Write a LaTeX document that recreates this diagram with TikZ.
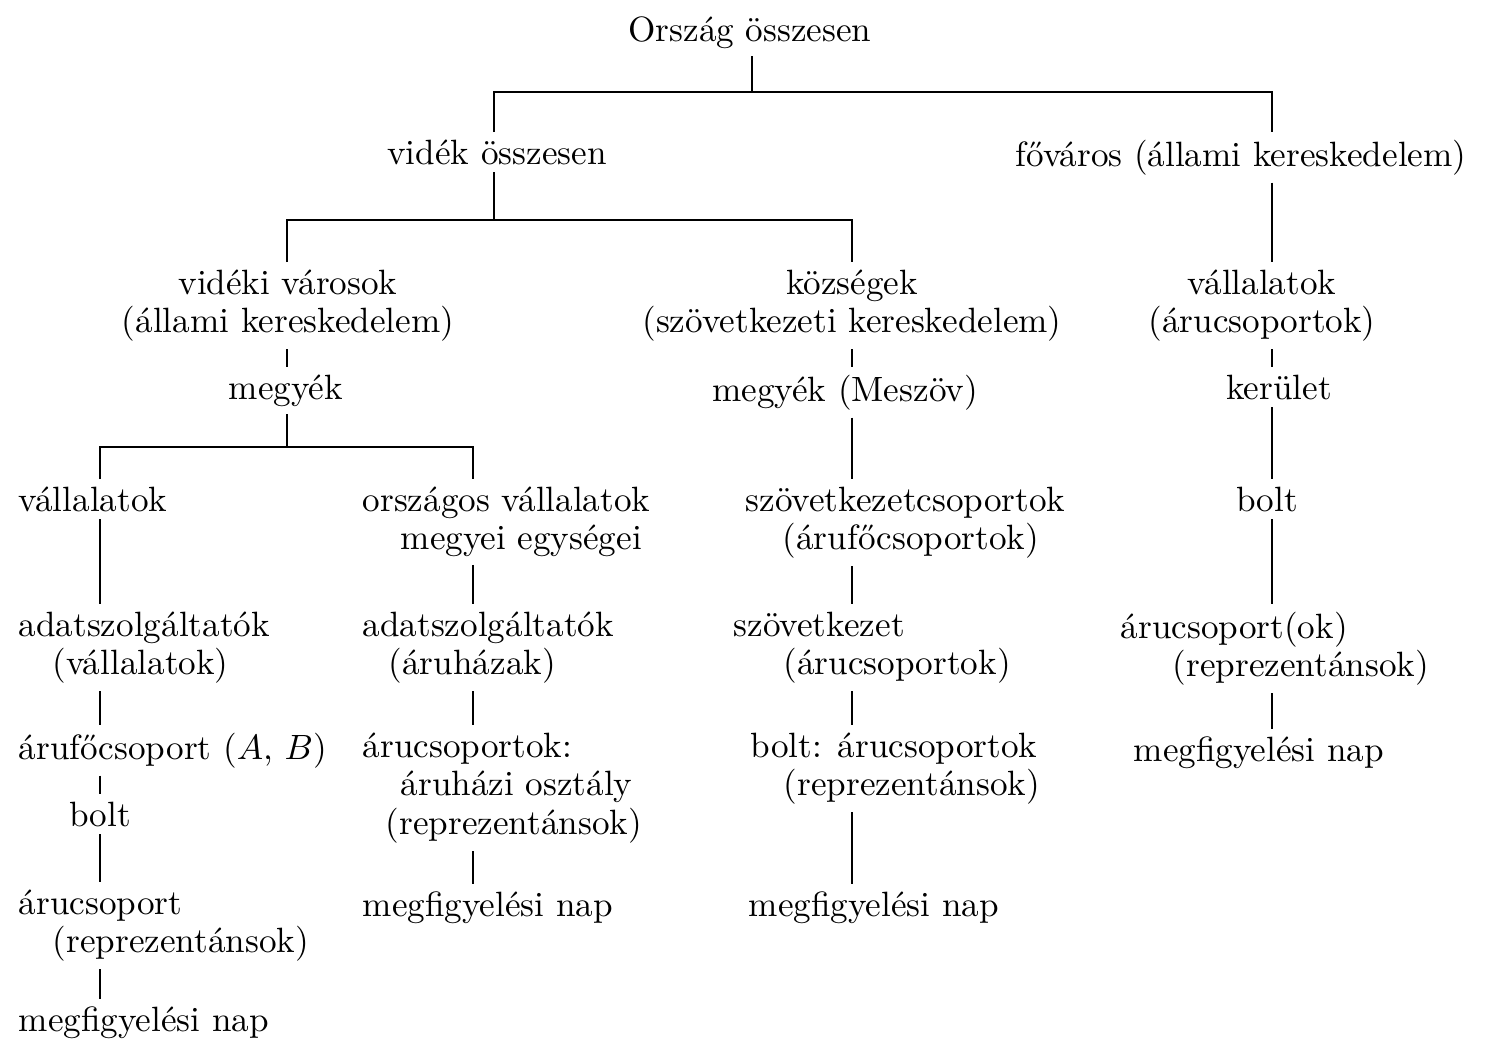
\documentclass[tikz,border=0pt]{standalone}
\usepackage{fontspec}
\usetikzlibrary{positioning}

\begin{document}
\begin{tikzpicture}[
  lab/.style={inner sep=2pt,font=\fontsize{10}{11}\selectfont,align=left,anchor=north west},
  cen/.style={inner sep=2pt,font=\fontsize{10}{11}\selectfont,align=center,anchor=north},
  ln/.style={line width=0.7pt}]
\useasboundingbox (0,0) rectangle (14.87,-10.39);

% column lines
\coordinate (c0) at (7.52,0);
\coordinate (cv) at (4.94,0);
\coordinate (c1) at (2.87,0);
\coordinate (c2) at (8.52,0);
\coordinate (cf) at (12.72,0);
\coordinate (cl1) at (1.00,0);
\coordinate (cl2) at (4.73,0);
\coordinate (b0) at (7.52,-0.92);
\coordinate (b1) at (4.94,-2.20);
\coordinate (b2) at (2.87,-4.47);

% top
\node[cen] (orszag) at (7.50,-0.09) {Ország összesen};
\node[cen] (videk) at (4.97,-1.32) {vidék összesen};
\node[cen] (fovaros) at (12.41,-1.32) {főváros (állami kereskedelem)};

% second level
\node[cen] (vvar) at (2.88,-2.62) {vidéki városok\\(állami kereskedelem)};
\node[cen] (kozs) at (8.52,-2.62) {községek\\(szövetkezeti kereskedelem)};
\node[cen] (vall3) at (12.62,-2.62) {vállalatok\\(árucsoportok)};

\node[cen] (megye1) at (2.86,-3.67) {megyék};
\node[cen] (megye2) at (8.45,-3.67) {megyék (Meszöv)};
\node[cen] (kerulet) at (12.79,-3.67) {kerület};

% lower rows
\node[lab] (vall1) at (0.11,-4.79) {vállalatok};
\node[lab] (orsz) at (3.55,-4.79) {országos vállalatok\\\hspace*{0.38cm}megyei egységei};
\node[lab] (szcs) at (7.38,-4.79) {szövetkezetcsoportok\\\hspace*{0.37cm}(árufőcsoportok)};
\node[cen] (bolt3) at (12.67,-4.79) {bolt};

\node[lab] (adat1) at (0.11,-6.04) {adatszolgáltatók\\\hspace*{0.34cm}(vállalatok)};
\node[lab] (adat2) at (3.55,-6.04) {adatszolgáltatók\\\hspace*{0.26cm}(áruházak)};
\node[lab] (szov) at (7.26,-6.04) {szövetkezet\\\hspace*{0.50cm}(árucsoportok)};
\node[lab] (arucs3) at (11.13,-6.04) {árucsoport(ok)\\\hspace*{0.52cm}(reprezentánsok)};

\node[lab] (afcs) at (0.11,-7.25) {árufőcsoport ($A$, $B$)};
\node[lab] (arucs2) at (3.55,-7.25) {árucsoportok:\\\hspace*{0.38cm}áruházi osztály\\\hspace*{0.23cm}(reprezentánsok)};
\node[lab] (boltar) at (7.43,-7.25) {bolt: árucsoportok\\\hspace*{0.33cm}(reprezentánsok)};
\node[lab] (nap3) at (11.26,-7.29) {megfigyelési nap};

\node[cen] (bolt1) at (1.00,-7.94) {bolt};

\node[lab] (arucs1) at (0.11,-8.82) {árucsoport\\\hspace*{0.34cm}(reprezentánsok)};
\node[lab] (nap2) at (3.55,-8.84) {megfigyelési nap};
\node[lab] (nap2b) at (7.41,-8.84) {megfigyelési nap};

\node[lab] (nap1) at (0.11,-9.99) {megfigyelési nap};

% branches
\draw[ln] (orszag.south -| c0) -- (b0);
\draw[ln] (videk.north -| cv) |- (b0) -| (fovaros.north -| cf);
\draw[ln] (videk.south -| cv) -- (b1);
\draw[ln] (vvar.north -| c1) |- (b1) -| (kozs.north -| c2);
\draw[ln] (megye1.south -| c1) -- (b2);
\draw[ln] (vall1.north -| cl1) |- (b2) -| (orsz.north -| cl2);

% chains
\foreach \a/\b/\c in {vvar/megye1/c1,
  kozs/megye2/c2, megye2/szcs/c2, szcs/szov/c2, szov/boltar/c2, boltar/nap2b/c2,
  fovaros/vall3/cf, vall3/kerulet/cf, kerulet/bolt3/cf, bolt3/arucs3/cf, arucs3/nap3/cf,
  vall1/adat1/cl1, adat1/afcs/cl1, afcs/bolt1/cl1, bolt1/arucs1/cl1, arucs1/nap1/cl1,
  orsz/adat2/cl2, adat2/arucs2/cl2, arucs2/nap2/cl2}
  \draw[ln] (\a.south -| \c) -- (\b.north -| \c);
\end{tikzpicture}
\end{document}
